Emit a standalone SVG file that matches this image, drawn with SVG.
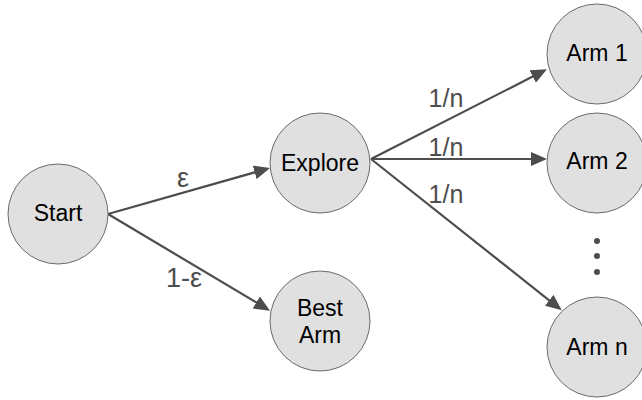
<svg xmlns="http://www.w3.org/2000/svg" width="642" height="400" viewBox="0 0 642 400">
<defs>
<style>
.node circle{fill:#e0e0e0;stroke:#6b6b6b;stroke-width:1}
.node text{font-family:"Liberation Sans",Arial,Helvetica,sans-serif;font-size:23px;fill:#000;text-anchor:middle}
.edge{fill:none;stroke:#4d4d4d;stroke-width:2.2}
.lbl{font-family:"Liberation Sans",Arial,Helvetica,sans-serif;font-size:25px;fill:#4d4d4d;text-anchor:middle}
</style>
<marker id="ah" viewBox="0 0 16 14" refX="12" refY="7" markerWidth="16" markerHeight="14" markerUnits="userSpaceOnUse" orient="auto">
<path d="M0,0 L16,7 L0,14 z" fill="#4d4d4d"/>
</marker>
</defs>
<rect width="642" height="400" fill="#fff"/>
<g id="connectors">
<path class="edge" d="M108,214 L266.2,169.1" marker-end="url(#ah)"/>
<path class="edge" d="M108,214 L266.6,308.6" marker-end="url(#ah)"/>
<path class="edge" d="M371,159 L543.4,71.1" marker-end="url(#ah)"/>
<path class="edge" d="M371,159 L543,159" marker-end="url(#ah)"/>
<path class="edge" d="M371,159 L558.6,307.8" marker-end="url(#ah)"/>
<text class="lbl" x="183" y="187" style="font-size:27px">ε</text>
<text class="lbl" x="184" y="287" style="font-size:27px">1-ε</text>
<text class="lbl" x="446" y="107">1/n</text>
<text class="lbl" x="446" y="156">1/n</text>
<text class="lbl" x="446" y="203">1/n</text>
</g>
<g id="start" class="node"><circle cx="58" cy="214" r="50"/><text x="58" y="221">Start</text></g>
<g id="explore" class="node"><circle cx="320" cy="163" r="50"/><text x="320" y="171">Explore</text></g>
<g id="best-arm" class="node"><circle cx="320" cy="321" r="50"/><text x="320" y="316">Best</text><text x="320" y="343">Arm</text></g>
<g id="arm1" class="node"><circle cx="597" cy="54" r="50"/><text x="597" y="61">Arm 1</text></g>
<g id="arm2" class="node"><circle cx="597" cy="163" r="50"/><text x="597" y="169">Arm 2</text></g>
<g id="armn" class="node"><circle cx="597" cy="347" r="50"/><text x="597" y="355">Arm n</text></g>
<g id="ellipsis" fill="#4d4d4d">
<circle cx="597" cy="241" r="3"/><circle cx="597" cy="256" r="3"/><circle cx="597" cy="272" r="3"/>
</g>
</svg>
